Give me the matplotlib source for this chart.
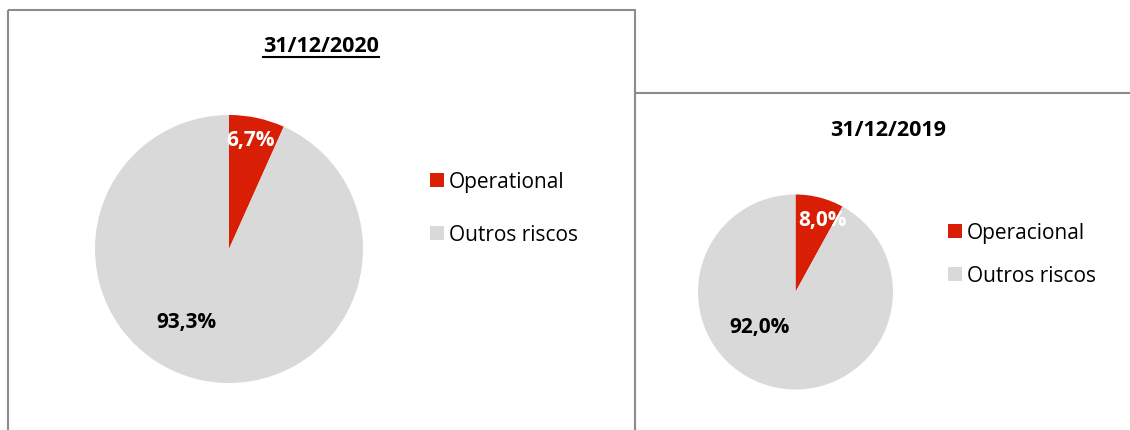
#!/usr/bin/env python
# -*- coding: utf-8 -*-

import matplotlib
matplotlib.use('Agg')
import matplotlib.pyplot as plt
from matplotlib.patches import Rectangle
from matplotlib.lines import Line2D
from matplotlib.transforms import Affine2D

###############################################################################
# Data
###############################################################################
TITLES = ('31/12/2020', '31/12/2019')
LABELS_2020 = ('Operational', 'Outros riscos')
LABELS_2019 = ('Operacional', 'Outros riscos')
SHARE_2020 = (6.7, 93.3)
SHARE_2019 = (8.0, 92.0)

COLORS = ('#D81E05', '#D9D9D9')
TXT_COLORS = ('white', 'black')
BORDER = '#8C8C8C'
FONT = 'Open Sans'

(W, H) = (1130, 430)
plt.rcParams['font.family'] = [FONT, 'DejaVu Sans']

fig = plt.figure(figsize=(W / 100, H / 100), dpi=100)
fig.patch.set_facecolor('white')
# reference pixel coords (origin top-left)
px = Affine2D().scale(1 / W, -1 / H).translate(0, 1) + fig.transFigure

###############################################################################
# Panels: (box, pie centre/radius, title pos, legend pos, label offsets)
###############################################################################
panels = [
    dict(box=(8, 10, 627, 440), centre=(229, 249), r=134,
         title=(321, 46), underline=True, leg=(430, 180, 53),
         lbl=((0.157, 0.813), (-0.317, -0.545)),
         labels=LABELS_2020, vals=SHARE_2020, name=TITLES[0]),
    dict(box=(635, 93, 520, 360), centre=(795.5, 292), r=97.5,
         title=(888.5, 130), underline=False, leg=(948, 230.5, 43),
         lbl=((0.272, 0.738), (-0.364, -0.369)),
         labels=LABELS_2019, vals=SHARE_2019, name=TITLES[1]),
]

titleTexts = []
for p in panels:
    (bx, by, bw, bh) = p['box']
    fig.add_artist(Rectangle(
        (bx, by), bw, bh, transform=px, fill=False,
        edgecolor=BORDER, linewidth=1.5, clip_on=False
    ))
    (cx, cy), r = p['centre'], p['r']
    ax = fig.add_axes([
        (cx - r) / W, 1 - (cy + r) / H, 2 * r / W, 2 * r / H
    ])
    ax.pie(
        p['vals'], colors=COLORS, startangle=90, counterclock=False,
        radius=1, wedgeprops=dict(linewidth=0)
    )
    ax.set_xlim(-1, 1)
    ax.set_ylim(-1, 1)
    ax.set_aspect('auto')
    ax.axis('off')
    for (v, (lx, ly), c) in zip(p['vals'], p['lbl'], TXT_COLORS):
        ax.text(
            lx, ly, f'{v:.1f}%'.replace('.', ','), color=c,
            fontsize=15, fontweight='bold', ha='center', va='center'
        )
    t = fig.text(
        p['title'][0], p['title'][1], p['name'], transform=px,
        fontsize=15.5, fontweight='bold', ha='center', va='center'
    )
    titleTexts.append((t, p['underline']))
    # legend
    (lx, ly, step) = p['leg']
    for (i, (lab, col)) in enumerate(zip(p['labels'], COLORS)):
        yy = ly + i * step
        fig.add_artist(Rectangle(
            (lx, yy - 7), 14, 14, transform=px, facecolor=col,
            edgecolor='none', clip_on=False
        ))
        fig.text(
            lx + 19, yy, lab, transform=px, fontsize=15,
            ha='left', va='center_baseline'
        )

# underline for the 2020 title
fig.canvas.draw()
rend = fig.canvas.get_renderer()
for (t, ul) in titleTexts:
    if not ul:
        continue
    bb = t.get_window_extent(rend).transformed(fig.transFigure.inverted())
    yLine = bb.y0 - 0.5 / H
    fig.add_artist(Line2D(
        [bb.x0, bb.x1], [yLine, yLine], transform=fig.transFigure,
        color='black', linewidth=1.5
    ))

plt.savefig('out.png', dpi=100, facecolor=fig.get_facecolor())
plt.close()
